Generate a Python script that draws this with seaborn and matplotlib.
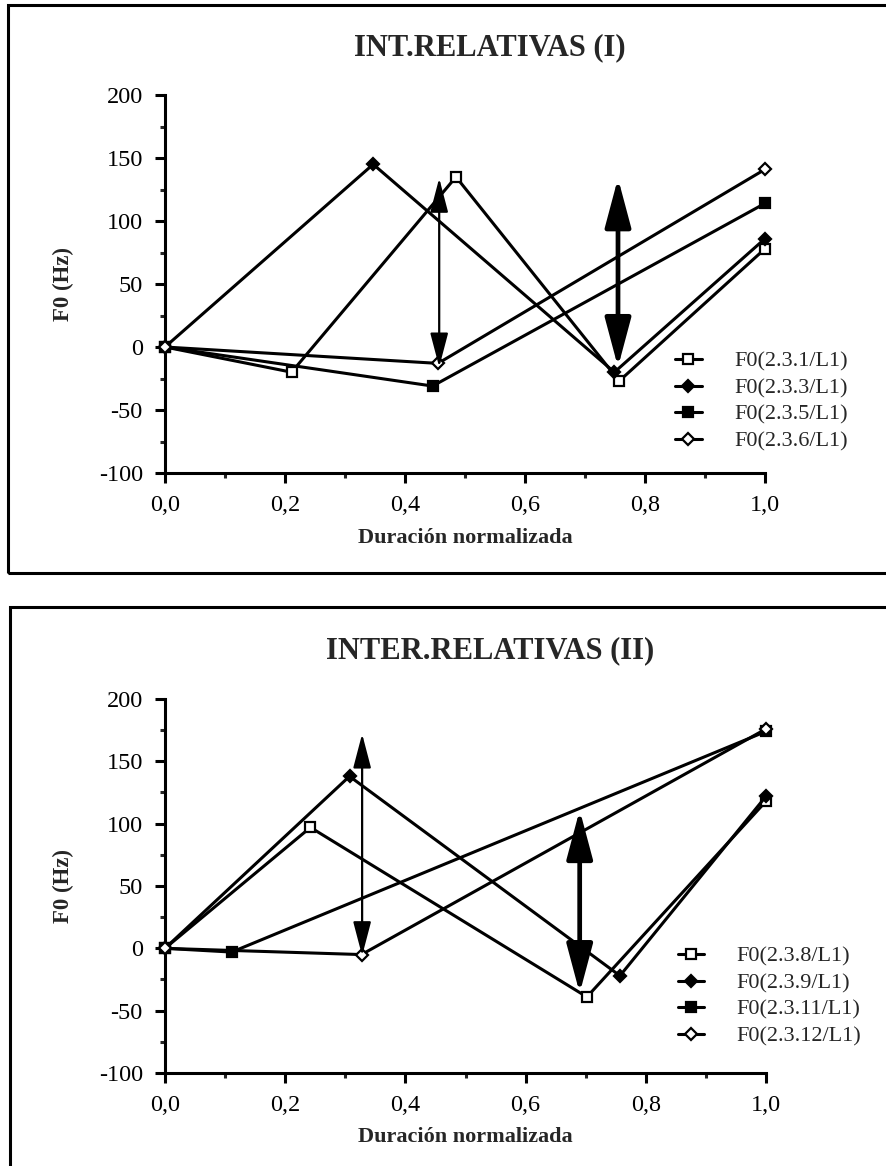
import matplotlib
matplotlib.use("Agg")
import matplotlib.pyplot as plt
import seaborn as sns
from matplotlib.patches import Rectangle
from matplotlib.ticker import FuncFormatter, MultipleLocator

# panel I data
labels_top = ["F0(2.3.1/L1)", "F0(2.3.3/L1)", "F0(2.3.5/L1)", "F0(2.3.6/L1)"]
x_231 = [0.0, 0.211, 0.485, 0.757, 1.0]
y_231 = [0, -20, 135, -27, 78]
x_233 = [0.0, 0.347, 0.749, 1.0]
y_233 = [0, 145, -20, 86]
x_235 = [0.0, 0.446, 1.0]
y_235 = [0, -31, 114]
x_236 = [0.0, 0.455, 1.0]
y_236 = [0, -13, 141]

# panel II data
labels_bot = ["F0(2.3.8/L1)", "F0(2.3.9/L1)", "F0(2.3.11/L1)", "F0(2.3.12/L1)"]
x_238 = [0.0, 0.242, 0.702, 1.0]
y_238 = [0, 97, -39, 118]
x_239 = [0.0, 0.307, 0.757, 1.0]
y_239 = [0, 138, -22, 122]
x_2311 = [0.0, 0.111, 1.0]
y_2311 = [0, -3, 174]
x_2312 = [0.0, 0.327, 1.0]
y_2312 = [0, -5, 176]

# double arrows (x, low, high)
arrows_top = [(0.457, -16, 134), (0.755, -16, 134)]
arrows_bot = [(0.328, -6, 172), (0.690, -36, 111)]

# marker, face colour
STYLES = [("s", "white"), ("D", "black"), ("s", "black"), ("D", "white")]

W, H = 886, 1166

sns.set_theme(style="ticks")
plt.rcParams["font.family"] = ["Liberation Serif", "DejaVu Serif"]
plt.rcParams["axes.unicode_minus"] = False


def draw_panel(ax, xs, ys, labels, arrows, leg_anchor):
    for (x, y, lab, (m, fc)) in zip(xs, ys, labels, STYLES):
        ms = 7 if m == "s" else 6.5
        sns.lineplot(x=x, y=y, ax=ax, color="black", lw=2.2, marker=m,
                     markersize=ms, markerfacecolor=fc, markeredgecolor="black",
                     markeredgewidth=1.6, estimator=None, sort=False,
                     label=lab, clip_on=False, zorder=3)

    # thin then thick double arrow
    for (x, lo, hi), (lw, hl, hw) in zip(arrows, [(1.6, 21, 5.5), (3.4, 30, 8)]):
        ax.annotate("", xy=(x, hi), xytext=(x, lo),
                    arrowprops=dict(arrowstyle=f"<|-|>,head_length={hl},head_width={hw}",
                                    lw=lw, color="black", shrinkA=0, shrinkB=0,
                                    mutation_scale=1), zorder=4)

    ax.set_xlim(0, 1)
    ax.set_ylim(-100, 200)
    ax.xaxis.set_major_locator(MultipleLocator(0.2))
    ax.xaxis.set_minor_locator(MultipleLocator(0.1))
    ax.yaxis.set_major_locator(MultipleLocator(50))
    ax.yaxis.set_minor_locator(MultipleLocator(25))
    ax.xaxis.set_major_formatter(FuncFormatter(lambda v, p: f"{v:.1f}".replace(".", ",")))
    ax.yaxis.set_major_formatter(FuncFormatter(lambda v, p: f"{int(round(v))}"))
    ax.tick_params(which="major", direction="out", length=7, width=2.2,
                   labelsize=17.5, pad=9, colors="black")
    ax.tick_params(which="minor", direction="out", length=3.5, width=2.2)
    sns.despine(ax=ax)
    for s in ("left", "bottom"):
        ax.spines[s].set_linewidth(2.2)
        ax.spines[s].set_color("black")

    ax.set_xlabel("Duración normalizada", fontsize=16, fontweight="bold")
    ax.set_ylabel("F0 (Hz)", fontsize=16.5, fontweight="bold")
    ax.xaxis.set_label_coords(0.5, -0.145)
    ax.yaxis.set_label_coords(-0.152, 0.5)

    ax.legend(loc="upper left", bbox_to_anchor=leg_anchor, frameon=False,
              fontsize=16, handlelength=1.2, handletextpad=1.45,
              labelspacing=0.27, borderpad=0, borderaxespad=0)


fig = plt.figure(figsize=(W / 100, H / 100), dpi=100)
ax1 = fig.add_axes([165 / W, 1 - 473 / H, 600 / W, 378 / H])
ax2 = fig.add_axes([165 / W, 1 - 1073 / H, 601 / W, 374 / H])

draw_panel(ax1, [x_231, x_233, x_235, x_236], [y_231, y_233, y_235, y_236],
           labels_top, arrows_top, (0.85, 0.322))
draw_panel(ax2, [x_238, x_239, x_2311, x_2312], [y_238, y_239, y_2311, y_2312],
           labels_bot, arrows_bot, (0.853, 0.339))

fig.text(490 / W, 1 - 48 / H, "INT.RELATIVAS (I)", ha="center", va="center",
         fontsize=22, fontweight="bold")
fig.text(490 / W, 1 - 651 / H, "INTER.RELATIVAS (II)", ha="center", va="center",
         fontsize=22, fontweight="bold")

# frames around each panel
fig.add_artist(Rectangle((8 / W, 1 - 573 / H), 1.0, (573 - 5) / H,
                         transform=fig.transFigure, fill=False, lw=2.2,
                         edgecolor="black", clip_on=False))
fig.add_artist(Rectangle((10 / W, -0.05), 1.0, 0.05 + 1 - 607 / H,
                         transform=fig.transFigure, fill=False, lw=2.2,
                         edgecolor="black", clip_on=False))

fig.savefig("out.png", dpi=100, facecolor="white")
